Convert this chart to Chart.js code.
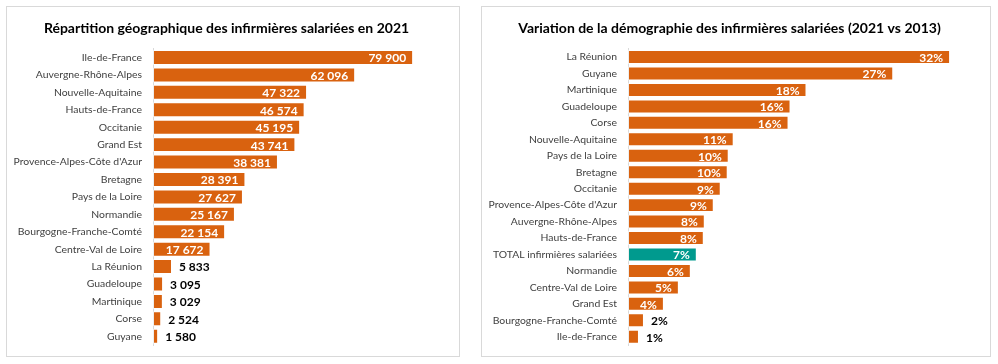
<!DOCTYPE html>
<html>
<head>
<meta charset="utf-8">
<script src="https://cdn.jsdelivr.net/npm/chart.js@4"></script>
<style>
  body { margin: 0; background: #fff; }
  .panel { position: absolute; top: 6px; height: 349px; border: 1px solid #d9d9d9; background: #fff; }
  #p1 { left: 6px; width: 452px; }
  #p2 { left: 481px; width: 508px; }
</style>
</head>
<body>
<div class="panel" id="p1"><canvas id="repartition" width="452" height="349"></canvas></div>
<div class="panel" id="p2"><canvas id="variation" width="508" height="349"></canvas></div>
<script>
// effectifs 2021
const regions2021 = ['Ile-de-France', 'Auvergne-Rhône-Alpes', 'Nouvelle-Aquitaine', 'Hauts-de-France',
  'Occitanie', 'Grand Est', "Provence-Alpes-Côte d'Azur", 'Bretagne', 'Pays de la Loire', 'Normandie',
  'Bourgogne-Franche-Comté', 'Centre-Val de Loire', 'La Réunion', 'Guadeloupe', 'Martinique', 'Corse', 'Guyane'];
const effectifs2021 = [79900, 62096, 47322, 46574, 45195, 43741, 38381, 28391, 27627, 25167,
  22154, 17672, 5833, 3095, 3029, 2524, 1580];

// variation 2021 vs 2013 (%)
const regionsVar = ['La Réunion', 'Guyane', 'Martinique', 'Guadeloupe', 'Corse', 'Nouvelle-Aquitaine',
  'Pays de la Loire', 'Bretagne', 'Occitanie', "Provence-Alpes-Côte d'Azur", 'Auvergne-Rhône-Alpes',
  'Hauts-de-France', 'TOTAL infirmières salariées', 'Normandie', 'Centre-Val de Loire', 'Grand Est',
  'Bourgogne-Franche-Comté', 'Ile-de-France'];
const variationPct = [32.3, 26.6, 17.9, 16.3, 16.1, 10.6, 10.1, 10.0, 9.3, 8.6, 7.7, 7.6, 6.9, 6.3, 5.1, 3.6, 1.6, 1.1];
const totalLabel = 'TOTAL infirmières salariées';

const ORANGE = '#d9620f';
const TEAL = '#009a8e';
const FONT = 'Lato';

function fmtSpace(v) {
  return String(v).replace(/\B(?=(\d{3})+(?!\d))/g, ' ');
}
function fmtPct(v) {
  return Math.round(v) + '%';
}

// value labels: inside the bar end in white, or outside in black when the bar is too short
function makeLabels(format) {
  return {
    id: 'barLabels',
    afterDatasetsDraw(chart) {
      const ctx = chart.ctx;
      const meta = chart.getDatasetMeta(0);
      const data = chart.data.datasets[0].data;
      const pad = 7;
      ctx.save();
      ctx.font = 'bold 12px ' + FONT;
      ctx.textBaseline = 'middle';
      meta.data.forEach((bar, i) => {
        const txt = format(data[i]);
        const w = ctx.measureText(txt).width;
        const len = bar.x - bar.base;
        if (w + 2 * pad <= len) {
          ctx.fillStyle = '#fff';
          ctx.textAlign = 'right';
          ctx.fillText(txt, bar.x - pad, bar.y + 1);
        } else {
          ctx.fillStyle = '#000';
          ctx.textAlign = 'left';
          ctx.fillText(txt, bar.x + pad, bar.y + 1);
        }
      });
      ctx.restore();
    }
  };
}

function makeConfig(labels, values, colors, title, xMax, barPct, format) {
  return {
    type: 'bar',
    data: {
      labels: labels,
      datasets: [{
        data: values,
        backgroundColor: colors,
        borderColor: 'rgba(255,255,255,0.55)',
        borderWidth: 1,
        borderSkipped: false,
        categoryPercentage: 1,
        barPercentage: barPct
      }]
    },
    options: {
      indexAxis: 'y',
      responsive: false,
      animation: false,
      layout: { padding: { left: 0, right: 13, top: 0, bottom: 11 } },
      scales: {
        x: { display: false, min: 0, max: xMax },
        y: {
          grid: { display: false, drawTicks: false },
          border: { display: true, color: '#d9d9d9' },
          ticks: { color: '#404040', padding: 11, font: { family: FONT, size: 10.4 } },
          afterFit: (scale) => {
            scale.width = 146;
            scale.paddingTop = 0;
            scale.paddingBottom = 0;
          }
        }
      },
      plugins: {
        legend: { display: false },
        tooltip: { enabled: false },
        title: {
          display: true,
          text: title,
          color: '#000',
          font: { family: FONT, size: 14, weight: 'bold' },
          padding: { top: 13, bottom: 12 }
        }
      }
    },
    plugins: [makeLabels(format)]
  };
}

new Chart(document.getElementById('repartition'), makeConfig(
  regions2021, effectifs2021, regions2021.map(() => ORANGE),
  'Répartition géographique des infirmières salariées en 2021', 90000, 0.86, fmtSpace));

new Chart(document.getElementById('variation'), makeConfig(
  regionsVar, variationPct, regionsVar.map(r => r === totalLabel ? TEAL : ORANGE),
  'Variation de la démographie des infirmières salariées (2021 vs 2013)', 35, 0.85, fmtPct));
</script>
</body>
</html>
